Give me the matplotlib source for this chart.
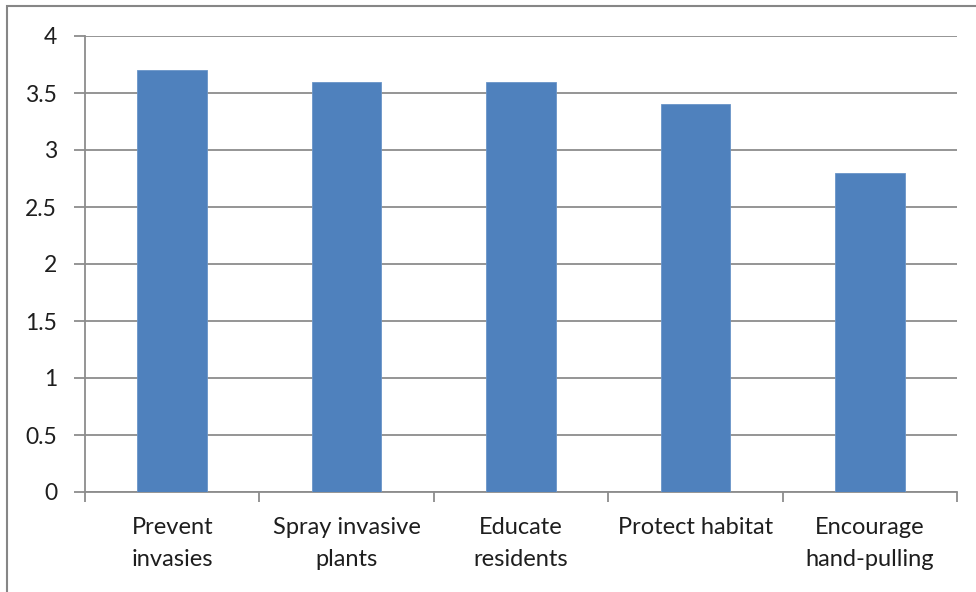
import matplotlib
matplotlib.use("Agg")
import matplotlib.pyplot as plt
from matplotlib.patches import Rectangle
import numpy as np

categories = ["Prevent\ninvasies", "Spray invasive\nplants", "Educate\nresidents",
              "Protect habitat", "Encourage\nhand-pulling"]
values = [3.7, 3.6, 3.6, 3.4, 2.8]
y_ticks = [0, 0.5, 1, 1.5, 2, 2.5, 3, 3.5, 4]
y_tick_labels = ["0", "0.5", "1", "1.5", "2", "2.5", "3", "3.5", "4"]

plt.rcParams['font.family'] = ['Lato', 'DejaVu Sans']

W, H = 976, 592
fig = plt.figure(figsize=(W / 100, H / 100), dpi=100)
fig.patch.set_facecolor("white")

# outer chart frame (left and top edges visible)
fig.add_artist(Rectangle((7 / W, -0.05), 1.1, 1.05 - 6 / H, transform=fig.transFigure,
                         fill=False, edgecolor="#868686", linewidth=1.5))

left, right, top, bottom = 85, 957, 36, 492
ax = fig.add_axes([left / W, 1 - bottom / H, (right - left) / W, (bottom - top) / H])

grid_col = "#8C8C8C"
x = np.arange(len(categories))
ax.bar(x, values, width=0.40, color="#4F81BD", edgecolor="#6A95C8", linewidth=0.6, zorder=3)

ax.set_xlim(-0.5, len(categories) - 0.5)
ax.set_ylim(0, 4)
ax.set_yticks(y_ticks)
ax.set_yticklabels(y_tick_labels)
ax.yaxis.grid(True, color=grid_col, linewidth=1.3, zorder=0)

ax.set_xticks(x)
ax.set_xticklabels(categories, linespacing=1.65)
ax.set_xticks(np.arange(len(categories) + 1) - 0.5, minor=True)
ax.tick_params(axis="x", which="major", length=0, pad=18, labelsize=17, colors="#1E1E1E")
ax.tick_params(axis="x", which="minor", length=7, width=1.3, color=grid_col)
ax.tick_params(axis="y", length=8, width=1.3, color=grid_col, pad=12, labelsize=16.5,
               labelcolor="#1E1E1E")

for side in ["top", "right"]:
    ax.spines[side].set_visible(False)
for side in ["left", "bottom"]:
    ax.spines[side].set_color(grid_col)
    ax.spines[side].set_linewidth(1.3)

fig.savefig("out.png", dpi=100, facecolor="white")
